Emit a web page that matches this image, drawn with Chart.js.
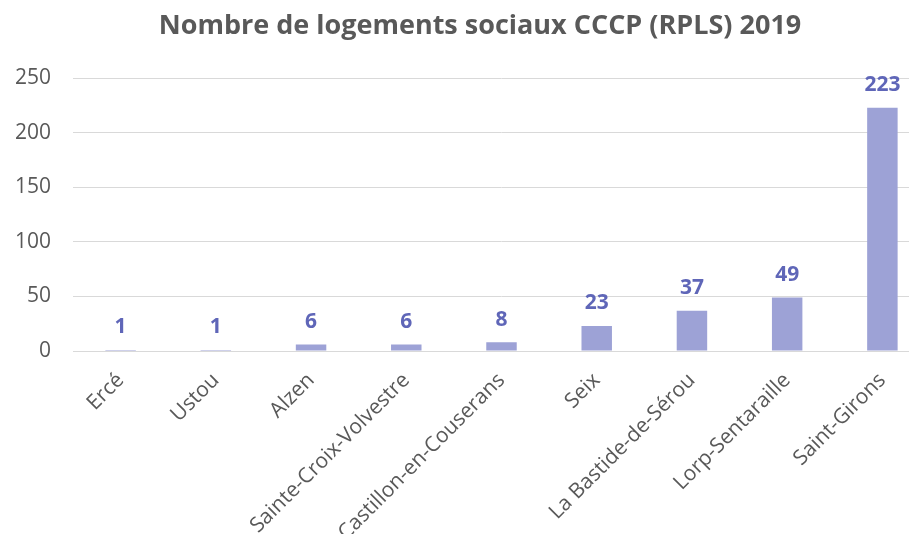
<!DOCTYPE html>
<html>
<head>
<meta charset="utf-8">
<script src="https://cdn.jsdelivr.net/npm/chart.js@4"></script>
<style>
  html, body { margin: 0; padding: 0; background: #fff; overflow: hidden; }
  #wrap { position: relative; width: 930px; height: 534px; }
</style>
</head>
<body>
<div id="wrap"><canvas id="chart1"></canvas></div>
<script>
const COMMUNES = ['Ercé', 'Ustou', 'Alzen', 'Sainte-Croix-Volvestre', 'Castillon-en-Couserans',
    'Seix', 'La Bastide-de-Sérou', 'Lorp-Sentaraille', 'Saint-Girons'];
const LOGEMENTS = [1, 1, 6, 6, 8, 23, 37, 49, 223];
const Y_TICKS = [0, 50, 100, 150, 200, 250];
const TITRE = 'Nombre de logements sociaux CCCP (RPLS) 2019';

const FONT = "'Open Sans', 'DejaVu Sans', sans-serif";

// étiquettes de valeur au-dessus des barres + titre décalé comme l'original
const valueLabels = {
    id: 'valueLabels',
    afterDatasetsDraw(chart) {
        const ctx = chart.ctx;
        const meta = chart.getDatasetMeta(0);
        ctx.save();
        ctx.font = `bold 21px ${FONT}`;
        ctx.fillStyle = '#5f66b8';
        ctx.textAlign = 'center';
        ctx.textBaseline = 'bottom';
        meta.data.forEach((bar, i) => {
            ctx.fillText(String(LOGEMENTS[i]), bar.x, bar.y - 12);
        });

        const t = chart.titleBlock;
        ctx.font = `bold 27px ${FONT}`;
        ctx.fillStyle = '#595959';
        ctx.textBaseline = 'middle';
        ctx.fillText(TITRE, 480, t.top + 6 + 27 * 1.2 / 2);
        ctx.restore();
    }
};

new Chart(document.getElementById('chart1'), {
    type: 'bar',
    data: {
        labels: COMMUNES,
        datasets: [{
            data: LOGEMENTS,
            backgroundColor: '#9da2d6',
            barPercentage: 0.32,
            categoryPercentage: 1,
        }]
    },
    options: {
        responsive: true,
        maintainAspectRatio: false,
        animation: false,
        layout: {padding: {top: 4, left: 0, right: 0, bottom: 0}},
        scales: {
            x: {
                grid: {display: false},
                border: {color: '#d9d9d9'},
                // les libellés débordent en bas, comme dans l'original
                afterFit: axis => { axis.height = 183; },
                ticks: {
                    color: '#595959',
                    font: {family: FONT, size: 21},
                    minRotation: 45,
                    maxRotation: 45,
                    autoSkip: false,
                    padding: 9,
                },
            },
            y: {
                min: 0,
                max: 250,
                afterBuildTicks: axis => { axis.ticks = Y_TICKS.map(v => ({value: v})); },
                afterFit: axis => { axis.width = 73; },
                grid: {color: '#d9d9d9', drawTicks: false},
                border: {display: false},
                ticks: {
                    color: '#595959',
                    font: {family: FONT, size: 21},
                    padding: 22,
                },
            },
        },
        plugins: {
            legend: {display: false},
            tooltip: {enabled: false},
            title: {
                // place réservée, le texte est dessiné par le plugin
                display: true,
                text: TITRE,
                color: 'rgba(0,0,0,0)',
                font: {family: FONT, size: 27, weight: 'bold'},
                padding: {top: 6, bottom: 36},
            },
        },
    },
    plugins: [valueLabels],
});
</script>
</body>
</html>
